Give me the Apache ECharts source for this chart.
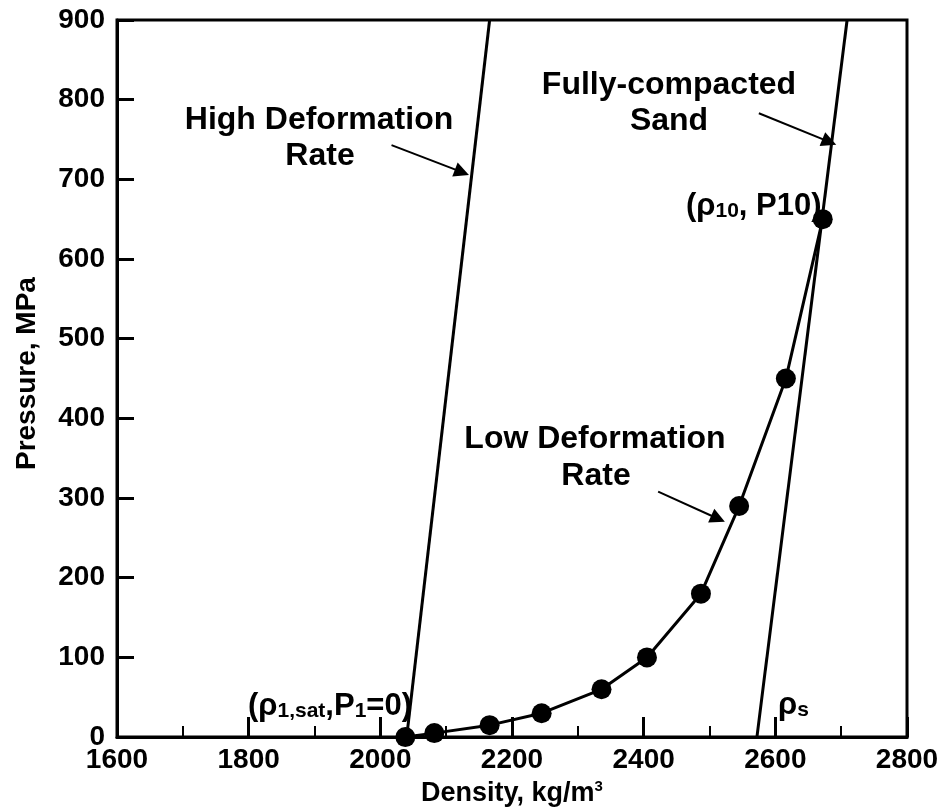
<!DOCTYPE html>
<html>
<head>
<meta charset="utf-8">
<script src="https://cdn.jsdelivr.net/npm/echarts@6/dist/echarts.min.js"></script>
<style>
  html, body { margin: 0; padding: 0; background: #fff; }
  #chart { width: 942px; height: 812px; }
</style>
</head>
<body>
<div id="chart"></div>
<script>
// Axis ranges (density in kg/m^3, pressure in MPa)
const densityRange = [1600, 2800];
const densityStep = 200;
const pressureRange = [0, 900];
const pressureStep = 100;

// Low deformation rate compaction path: [density, pressure]
const lowRateDensity = [2038, 2082, 2166, 2245, 2336, 2405, 2487, 2545, 2616, 2672];
const lowRatePressure = [0, 5, 15, 30, 60, 100, 180, 290, 450, 650];

// High deformation rate line and fully-compacted sand line (end points)
const highRateDensity = [2040, 2166];
const highRatePressure = [0, 900];
const sandDensity = [2572, 2709];
const sandPressure = [0, 900];

// Annotation arrows in data space: [fromDensity, fromPressure, toDensity, toPressure]
const arrowHigh = [2017, 743, 2124, 709];
const arrowSand = [2575, 783, 2682, 747];
const arrowLow = [2422, 308, 2513, 274];

const zip = (xs, ys) => xs.map((x, i) => [x, ys[i]]);
const FONT = 'Liberation Sans, Arial, Helvetica, sans-serif';
const INK = '#000';

const chart = echarts.init(document.getElementById('chart'), null, { renderer: 'canvas' });

function arrow(a) {
  return [{ coord: [a[0], a[1]] }, { coord: [a[2], a[3]] }];
}

function label(text, x, y, align, rich) {
  return {
    type: 'text',
    x: x, y: y,
    silent: true,
    style: {
      text: text,
      font: 'bold 32px ' + FONT,
      fill: INK,
      align: align,
      verticalAlign: 'middle',
      rich: rich || {}
    }
  };
}

const sub = { fontSize: 21, fontWeight: 'bold', fontFamily: FONT, fill: INK, padding: [11, 0, 0, 0] };
const main = { fontSize: 31, fontWeight: 'bold', fontFamily: FONT, fill: INK };

const option = {
  backgroundColor: '#fff',
  animation: false,
  grid: { left: 117, right: 35, top: 20, bottom: 73, show: true, borderColor: INK, borderWidth: 3 },
  xAxis: {
    type: 'value',
    min: densityRange[0], max: densityRange[1], interval: densityStep,
    name: '{t|Density, kg/m}{s|3}',
    nameLocation: 'middle',
    nameGap: 35,
    nameTextStyle: {
      rich: {
        t: { fontSize: 27, fontWeight: 'bold', fontFamily: FONT, color: INK },
        s: { fontSize: 15, fontWeight: 'bold', fontFamily: FONT, color: INK, padding: [0, 0, 14, 0] }
      }
    },
    axisLine: { lineStyle: { color: INK, width: 3 } },
    axisTick: { inside: true, length: 20, lineStyle: { color: INK, width: 3 } },
    minorTick: { show: true, splitNumber: 2, length: 11, lineStyle: { color: INK, width: 2 } },
    axisLabel: {
      fontSize: 28, fontWeight: 'bold', fontFamily: FONT, color: INK, margin: 9,
      formatter: v => String(v)
    },
    splitLine: { show: false }
  },
  yAxis: {
    type: 'value',
    min: pressureRange[0], max: pressureRange[1], interval: pressureStep,
    name: 'Pressure, MPa',
    nameLocation: 'middle',
    nameRotate: 90,
    nameGap: 76,
    nameTextStyle: { fontSize: 28, fontWeight: 'bold', fontFamily: FONT, color: INK, padding: [0, 0, 0, 10] },
    axisLine: { lineStyle: { color: INK, width: 3 } },
    axisTick: { inside: true, length: 17, lineStyle: { color: INK, width: 3 } },
    axisLabel: {
      fontSize: 28, fontWeight: 'bold', fontFamily: FONT, color: INK, margin: 12,
      formatter: v => String(v)
    },
    splitLine: { show: false }
  },
  series: [
    {
      name: 'High Deformation Rate',
      type: 'line',
      data: zip(highRateDensity, highRatePressure),
      symbol: 'none',
      lineStyle: { color: INK, width: 3 },
      silent: true
    },
    {
      name: 'Fully-compacted Sand',
      type: 'line',
      data: zip(sandDensity, sandPressure),
      symbol: 'none',
      lineStyle: { color: INK, width: 3 },
      silent: true
    },
    {
      name: 'Low Deformation Rate',
      type: 'line',
      data: zip(lowRateDensity, lowRatePressure),
      symbol: 'circle',
      symbolSize: 20,
      itemStyle: { color: INK },
      lineStyle: { color: INK, width: 3 },
      clip: false,
      z: 3,
      markLine: {
        silent: true,
        symbol: ['none', 'triangle'],
        symbolSize: 15,
        lineStyle: { color: INK, width: 2, type: 'solid' },
        label: { show: false },
        emphasis: { disabled: true },
        data: [arrow(arrowHigh), arrow(arrowSand), arrow(arrowLow)]
      }
    }
  ],
  graphic: [
    label('High Deformation', 319, 120, 'center'),
    label('Rate', 320, 156, 'center'),
    label('Fully-compacted', 669, 85, 'center'),
    label('Sand', 669, 121, 'center'),
    label('Low Deformation', 595, 439, 'center'),
    label('Rate', 596, 476, 'center'),
    label('{m|(ρ}{s|10}{m|, P10)}', 686, 206, 'left', { m: main, s: sub }),
    label('{m|(ρ}{s|1,sat}{m|,P}{s|1}{m|=0)}', 248, 706, 'left', { m: main, s: sub }),
    label('{m|ρ}{s|s}', 778, 705, 'left', { m: main, s: sub })
  ]
};

chart.setOption(option);
</script>
</body>
</html>
